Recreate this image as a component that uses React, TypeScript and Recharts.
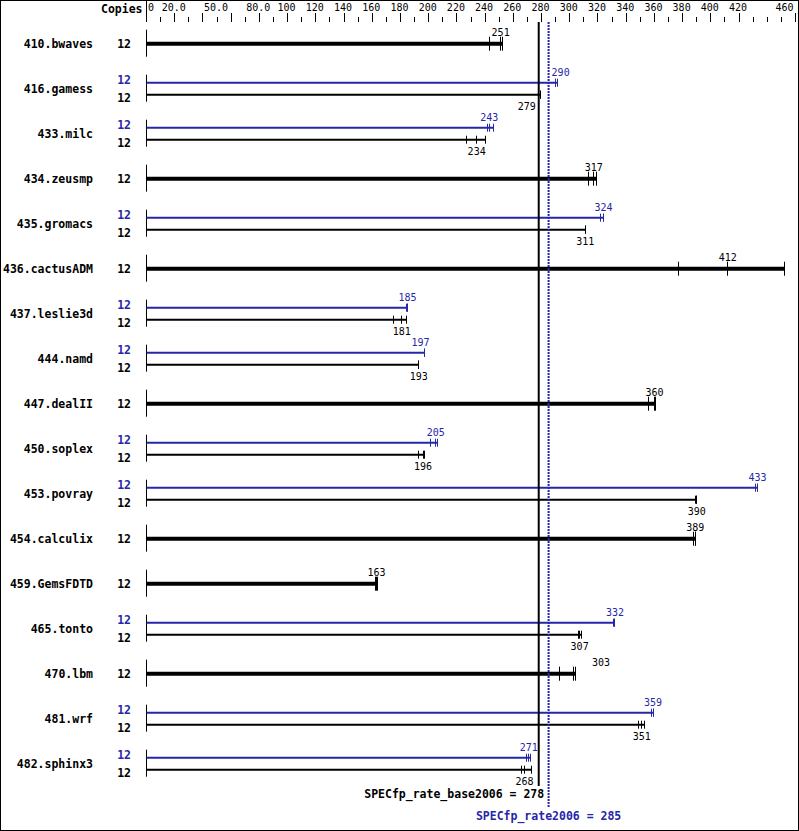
import React from "react";
import { ScatterChart, XAxis, YAxis, Scatter, ReferenceLine } from "recharts";

// ---------- data ----------
const benchmarks = [
  "410.bwaves", "416.gamess", "433.milc", "434.zeusmp", "435.gromacs",
  "436.cactusADM", "437.leslie3d", "444.namd", "447.dealII", "450.soplex",
  "453.povray", "454.calculix", "459.GemsFDTD", "465.tonto", "470.lbm",
  "481.wrf", "482.sphinx3",
];
const baseCopies = [12, 12, 12, 12, 12, 12, 12, 12, 12, 12, 12, 12, 12, 12, 12, 12, 12];
const peakCopies: (number | null)[] = [null, 12, 12, null, 12, null, 12, 12, null, 12, 12, null, null, 12, null, 12, 12];
const baseMedians = [251, 279, 234, 317, 311, 412, 181, 193, 360, 196, 390, 389, 163, 307, 303, 351, 268];
const peakMedians: (number | null)[] = [null, 290, 243, null, 324, null, 185, 197, null, 205, 433, null, null, 332, null, 359, 271];
const baseRuns = [
  [243, 251, 252], [278, 279, 279], [227, 234, 240], [313, 317, 319], [311, 311, 311],
  [377, 412, 452], [175, 181, 184], [193, 193, 193], [356, 360, 361], [193, 196, 197],
  [389, 390, 390], [388, 389, 389], [162, 163, 164], [306, 307, 308], [293, 303, 304],
  [349, 351, 353], [266, 268, 273],
];
const peakRuns: (number[] | null)[] = [
  null, [290, 290, 291], [242, 243, 246], null, [322, 324, 324],
  null, [184, 185, 185], [197, 197, 197], null, [201, 205, 206],
  [432, 433, 433], null, null, [331, 332, 332], null,
  [358, 359, 359], [269, 271, 272],
];
const axisTicks = [0, 10, 20, 30, 40, 50, 60, 70, 80, 90, 100, 110, 120, 130, 140, 150, 160, 170, 180, 190, 200, 210, 220, 230, 240, 250, 260, 270, 280, 290, 300, 310, 320, 330, 340, 350, 360, 370, 380, 390, 400, 410, 420, 430, 440, 450, 460];
const majorTicks = [0, 20, 40, 60, 80, 100, 120, 140, 160, 180, 200, 220, 240, 260, 280, 300, 320, 340, 360, 380, 400, 420, 460];
const axisTickLabels: Record<number, string> = {
  0: "0", 20: "20.0", 50: "50.0", 80: "80.0", 100: "100", 120: "120", 140: "140", 160: "160",
  180: "180", 200: "200", 220: "220", 240: "240", 260: "260", 280: "280", 300: "300", 320: "320",
  340: "340", 360: "360", 380: "380", 400: "400", 420: "420", 460: "460",
};
const BASE_SCORE = 278;
const PEAK_SCORE = 285;
const baseScoreLabel = "SPECfp_rate_base2006 = 278";
const peakScoreLabel = "SPECfp_rate2006 = 285";
const copiesHeader = "Copies";

// ---------- layout / style ----------
const W = 799;
const H = 831;
const PLOT_LEFT = 146.5;
const PLOT_RIGHT = 795.5;
const AXIS_H = 22;
const ROW0 = 43.7;
const ROW_STEP = 45;
const X_MAX = 460;
const PX_PER_UNIT = (PLOT_RIGHT - PLOT_LEFT) / X_MAX;
const yData = (px: number) => (px - ROW0) / ROW_STEP;
const Y_DOMAIN: [number, number] = [yData(AXIS_H), yData(H)];
const PEAK_OFF = -6 / ROW_STEP;
const BASE_OFF = 6 / ROW_STEP;
const BLUE = "#2626a8";
const MONO = "'DejaVu Sans Mono', monospace";
const SMALL_FS = 10;
const SMALL_CHAR_W = 6.02;
// label placement tweaks (pixels), keyed by "benchmarkIndex:kind"
const LABEL_NUDGE: Record<string, number> = { "14:single": 27, "7:peak": -4 };

type Row = { i: number; y: number; value: number; runs: number[]; kind: "single" | "peak" | "base" };
const rows: Row[] = [];
benchmarks.forEach((_, i) => {
  const pm = peakMedians[i];
  const pr = peakRuns[i];
  if (pm == null || pr == null) {
    rows.push({ i, y: i, value: baseMedians[i], runs: baseRuns[i], kind: "single" });
  } else {
    rows.push({ i, y: i + PEAK_OFF, value: pm, runs: pr, kind: "peak" });
    rows.push({ i, y: i + BASE_OFF, value: baseMedians[i], runs: baseRuns[i], kind: "base" });
  }
});
const tickPoints = rows.flatMap((r) => r.runs.map((v) => ({ x: v, y: r.y, kind: r.kind })));
const labelPoints = rows.map((r) => ({ x: r.value, y: r.y, kind: r.kind, text: String(r.value), key: r.i + ":" + r.kind }));
const benchIdx = benchmarks.map((_, i) => i);

const XTick = (p: any) => {
  const v = p.payload.value as number;
  const x = Math.floor(p.x) + 0.5;
  const major = majorTicks.includes(v);
  const label = axisTickLabels[v];
  let anchor: "start" | "middle" | "end" = "middle";
  let lx = p.x - 1;
  if (v === 0) { anchor = "start"; lx = p.x + 1.5; }
  if (v === X_MAX) { anchor = "end"; lx = p.x - 2; }
  return (
    <g>
      <line x1={x} x2={x} y1={v === 0 ? 0 : AXIS_H - (major ? 9 : 5)} y2={AXIS_H} stroke="#000" strokeWidth={1} />
      {label ? (
        <text x={lx} y={10.5} textAnchor={anchor} fontFamily={MONO} fontSize={SMALL_FS} fill="#000">{label}</text>
      ) : null}
    </g>
  );
};

const YTick = (p: any) => {
  const i = p.payload.value as number;
  const c = p.y;
  const hasPeak = peakMedians[i] != null;
  const common = { fontFamily: MONO, fontSize: 11.5, fontWeight: 700 as const, textAnchor: "end" as const };
  return (
    <g>
      <text x={PLOT_LEFT - 53.5} y={c + 3.8} fill="#000" {...common}>{benchmarks[i]}</text>
      {hasPeak ? (
        <>
          <text x={PLOT_LEFT - 15.5} y={c - 4.5} fill={BLUE} {...common}>{peakCopies[i]}</text>
          <text x={PLOT_LEFT - 15.5} y={c + 13} fill="#000" {...common}>{baseCopies[i]}</text>
        </>
      ) : (
        <text x={PLOT_LEFT - 15.5} y={c + 3.8} fill="#000" {...common}>{baseCopies[i]}</text>
      )}
    </g>
  );
};

const RunTick = (p: any) => {
  const kind = p.payload.kind;
  const h = kind === "single" ? 7 : 4;
  const x = Math.floor(p.cx) + 0.5;
  return <line x1={x} x2={x} y1={p.cy - h} y2={p.cy + h} stroke={kind === "peak" ? BLUE : "#000"} strokeWidth={1} />;
};

const ValueLabel = (p: any) => {
  const { kind, x: v, text, key } = p.payload;
  const halfW = (text.length * SMALL_CHAR_W) / 2;
  let cx = p.cx;
  const bx = p.cx + (BASE_SCORE - v) * PX_PER_UNIT;
  const px = p.cx + (PEAK_SCORE - v) * PX_PER_UNIT;
  if (kind === "base" && Math.abs(cx - bx) < halfW + 2) cx = bx - halfW - 3;
  if (kind === "peak" && Math.abs(cx - px) < halfW + 2) cx = px + halfW + 3;
  cx += LABEL_NUDGE[key] || 0;
  const y = kind === "base" ? p.cy + 15 : p.cy - (kind === "single" ? 8 : 7);
  return (
    <text x={cx} y={y} textAnchor="middle" fontFamily={MONO} fontSize={SMALL_FS} fill={kind === "peak" ? BLUE : "#000"}>
      {text}
    </text>
  );
};

export default function App() {
  const yTop = Y_DOMAIN[0];
  return (
    <div style={{ position: "relative", width: W, height: H, background: "#fff" }}>
      <style>{"body{margin:0;background:#fff}"}</style>
      <ScatterChart width={W} height={H} margin={{ top: 0, right: W - PLOT_RIGHT, bottom: 0, left: 0 }}>
        <XAxis
          type="number"
          dataKey="x"
          orientation="top"
          domain={[0, X_MAX]}
          ticks={axisTicks}
          interval={0}
          height={AXIS_H}
          tick={<XTick />}
          tickLine={false}
          axisLine={false}
          tickSize={0}
          tickMargin={0}
        />
        <YAxis
          type="number"
          dataKey="y"
          domain={Y_DOMAIN}
          reversed
          width={PLOT_LEFT}
          ticks={benchIdx}
          interval={0}
          tick={<YTick />}
          tickLine={false}
          axisLine={false}
          tickSize={0}
          tickMargin={0}
        />
        {benchIdx.map((i) => (
          <ReferenceLine
            key={"sep" + i}
            segment={[{ x: 0, y: i - 14 / ROW_STEP }, { x: 0, y: i + 13 / ROW_STEP }]}
            stroke="#000"
            strokeWidth={1}
            ifOverflow="visible"
          />
        ))}
        {rows.map((r, k) => (
          <ReferenceLine
            key={"bar" + k}
            segment={[{ x: 0, y: r.y }, { x: Math.max(...r.runs), y: r.y }]}
            stroke={r.kind === "peak" ? BLUE : "#000"}
            strokeWidth={r.kind === "single" ? 4 : 2}
            ifOverflow="visible"
          />
        ))}
        <ReferenceLine
          segment={[{ x: BASE_SCORE, y: yTop }, { x: BASE_SCORE, y: yData(786) }]}
          stroke="#000"
          strokeWidth={2}
          ifOverflow="visible"
          label={(lp: any) => (
            <text x={lp.viewBox.x + 5.5} y={lp.viewBox.y + lp.viewBox.height + 12} textAnchor="end" fontFamily={MONO} fontSize={11.5} fontWeight={700} fill="#000">
              {baseScoreLabel}
            </text>
          )}
        />
        <ReferenceLine
          segment={[{ x: PEAK_SCORE, y: yTop }, { x: PEAK_SCORE, y: yData(807) }]}
          stroke={BLUE}
          strokeWidth={2}
          strokeDasharray="2 1"
          ifOverflow="visible"
          label={(lp: any) => (
            <text x={lp.viewBox.x} y={lp.viewBox.y + lp.viewBox.height + 13} textAnchor="middle" fontFamily={MONO} fontSize={11.5} fontWeight={700} fill={BLUE}>
              {peakScoreLabel}
            </text>
          )}
        />
        <Scatter data={tickPoints} shape={<RunTick />} isAnimationActive={false} />
        <Scatter data={labelPoints} shape={<ValueLabel />} isAnimationActive={false} />
      </ScatterChart>
      <svg width={W} height={AXIS_H} style={{ position: "absolute", left: 0, top: 0, pointerEvents: "none" }}>
        <text x={PLOT_LEFT - 4} y={13} textAnchor="end" fontFamily={MONO} fontSize={11.5} fontWeight={700} fill="#000">{copiesHeader}</text>
      </svg>
      <div style={{ position: "absolute", left: 0, top: 0, width: W, height: H, boxSizing: "border-box", border: "1px solid #000", pointerEvents: "none" }} />
    </div>
  );
}
